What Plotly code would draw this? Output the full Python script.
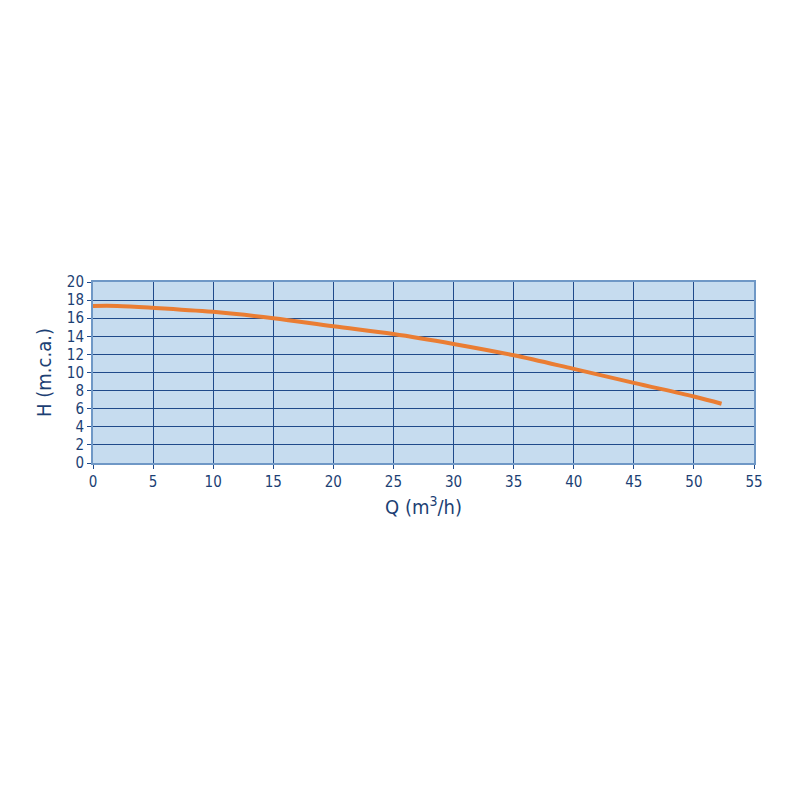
import plotly.graph_objects as go

q = [0, 2, 5, 10, 15, 20, 25, 30, 35, 40, 45, 50, 52.3]
h = [17.35, 17.35, 17.15, 16.7, 16.0, 15.1, 14.25, 13.15, 11.9, 10.4, 8.85, 7.35, 6.55]

x_ticks = list(range(0, 56, 5))
y_ticks = list(range(0, 21, 2))

navy = "#1c3f74"
grid = "#1f4a8a"
font_family = "DejaVu Sans Condensed, Liberation Sans Narrow, sans-serif"

fig = go.Figure()
fig.add_trace(go.Scatter(x=q, y=h, mode="lines", line=dict(color="#ea7d33", width=4, shape="spline"),
                         hoverinfo="skip", showlegend=False))

fig.update_layout(
    width=800, height=800,
    paper_bgcolor="white",
    plot_bgcolor="#c6dcef",
    margin=dict(l=85, r=54, t=274, b=345),
    font=dict(family=font_family, color=navy, size=15),
    xaxis=dict(range=[0, 55], tickvals=x_ticks, showgrid=True, gridcolor=grid, gridwidth=1,
               zeroline=False, showline=True, linecolor="#6f98c6", linewidth=2, mirror=True,
               ticks="outside", ticklen=4, tickcolor=grid,
               title=dict(text="Q (m<sup>3</sup>/h)", font=dict(size=20, color=navy), standoff=10),
               tickfont=dict(size=15, color=navy)),
    yaxis=dict(range=[0, 20], tickvals=y_ticks, showgrid=True, gridcolor=grid, gridwidth=1,
               zeroline=False, showline=True, linecolor="#6f98c6", linewidth=2, mirror=True,
               ticks="outside", ticklen=4, tickcolor=grid,
               title=dict(text="H (m.c.a.)", font=dict(size=20, color=navy), standoff=10),
               tickfont=dict(size=15, color=navy)),
)

fig.write_html("out.html")
